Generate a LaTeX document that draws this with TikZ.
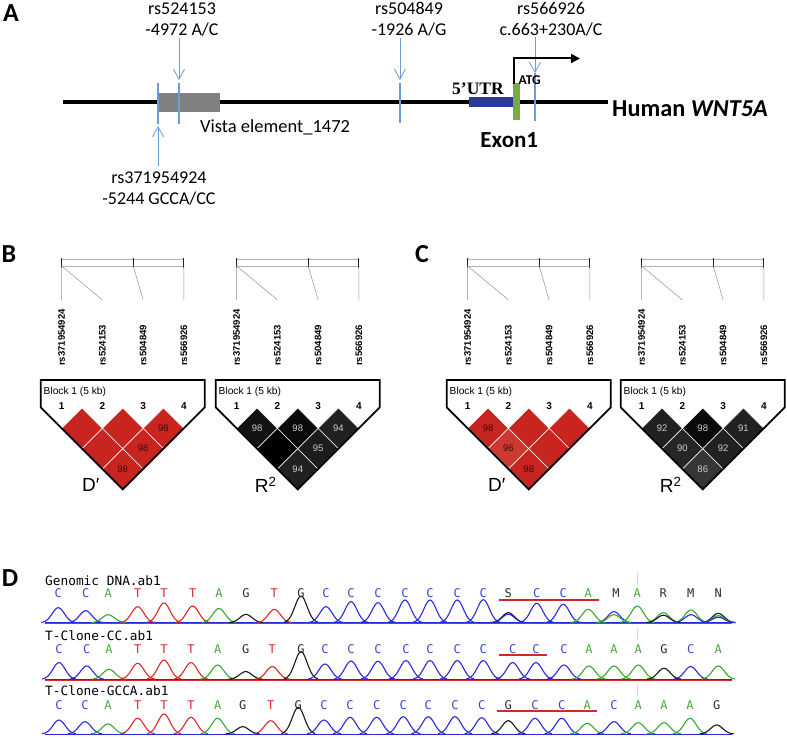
\documentclass[tikz,border=0pt]{standalone}
\usepackage{fontspec}
\setmainfont{Carlito}
\newfontfamily\arialf{Liberation Sans}
\newfontfamily\monof{DejaVu Sans Mono}
\newfontfamily\timesf{Liberation Serif}
\usetikzlibrary{arrows.meta,shapes.geometric}
\definecolor{snpblue}{RGB}{112,156,214}
\definecolor{utrblue}{RGB}{44,58,150}
\definecolor{exgreen}{RGB}{120,170,72}
\definecolor{boxgray}{RGB}{128,128,128}
\definecolor{ldred}{RGB}{200,36,32}
\definecolor{ldredb}{RGB}{206,56,50}
\definecolor{ldtxt}{RGB}{60,12,10}
\definecolor{rtxt}{RGB}{205,205,205}
\definecolor{kA}{gray}{0.0}
\definecolor{kB}{gray}{0.04}
\definecolor{kC}{gray}{0.07}
\definecolor{kD}{gray}{0.11}
\definecolor{kE}{gray}{0.13}
\definecolor{kF}{gray}{0.15}
\definecolor{kG}{gray}{0.21}
\definecolor{trB}{RGB}{40,40,220}
\definecolor{trG}{RGB}{50,170,50}
\definecolor{trR}{RGB}{220,40,40}
\definecolor{trK}{RGB}{25,25,25}
\definecolor{bC}{RGB}{60,70,200}
\definecolor{bA}{RGB}{70,170,60}
\definecolor{bT}{RGB}{215,45,45}
\definecolor{bG}{RGB}{45,45,45}
\colorlet{bS}{bG}\colorlet{bM}{bG}\colorlet{bR}{bG}\colorlet{bN}{bG}
\definecolor{seqred}{RGB}{210,40,40}
\definecolor{ymark}{RGB}{245,228,60}

\tikzset{
  panel/.style={font=\bfseries\fontsize{26}{26}\selectfont, inner sep=0pt},
  rslab/.style={font=\fontsize{18}{21}\selectfont, align=center, inner sep=0pt},
  snptick/.style={snpblue, line width=1.6pt},
  snparrow/.style={snpblue, line width=0.8pt, -{Straight Barb[length=10pt,width=11pt]}},
  barline/.style={gray!60, line width=0.6pt},
  bartick/.style={black!85, line width=1pt},
  mapline/.style={gray!85, line width=0.5pt},
  snplab/.style={font=\arialf\bfseries\fontsize{9.5}{10}\selectfont, rotate=90, anchor=west, inner sep=0pt},
  numlab/.style={font=\arialf\bfseries\fontsize{10}{10}\selectfont, inner sep=0pt},
  blocklab/.style={font=\arialf\fontsize{10.2}{11}\selectfont, inner sep=0pt, anchor=west},
  ldcell/.style={diamond, aspect=1, minimum width=40.7pt, minimum height=40.7pt, inner sep=0pt, outer sep=0pt, draw=white, line width=0.5pt, font=\arialf\fontsize{9.5}{10}\selectfont},
  ldout/.style={black, line width=1.7pt, line join=miter},
  ldname/.style={font=\arialf\fontsize{19}{19}\selectfont, inner sep=0pt},
  trace/.style={line width=1.1pt},
  seqtitle/.style={font=\monof\fontsize{12.8}{13}\selectfont, inner sep=0pt, anchor=west},
  baseletter/.style={font=\monof\fontsize{12}{12}\selectfont, inner sep=0pt},
  seqline/.style={seqred, line width=2pt},
  ytick/.style={ymark, line width=1.4pt}
}

\newcommand\ldplot[4]{%
\begin{scope}[xshift=#1]
  \draw[barline] (61.7,259) -- (183.8,259) (61.7,266) -- (183.8,266);
  \draw[bartick] (61.7,257.5) -- (61.7,267.5) (133.3,257.5) -- (133.3,267.5) (183.8,257.5) -- (183.8,267.5);
  \draw[mapline] (61.7,266) -- (61.7,300) (61.7,266) -- (102.4,300) (133.3,266) -- (143.1,300) (183.8,266) -- (183.8,300);
  \foreach \t [count=\k] in {rs371954924,rs524153,rs504849,rs566926}{
    \pgfmathsetmacro\mx{61.7+40.7*(\k-1)}
    \node[snplab] (#2s\k) at (\mx,366) {\t};
    \node[numlab] (#2n\k) at (\mx,406.5) {\k};
  }
  \foreach \i/\j/\c/\tc/\v in {#3}{
    \pgfmathsetmacro\cx{61.7+40.7*((\i+\j)/2-1)}
    \pgfmathsetmacro\cy{408+20.35*(\j-\i)}
    \node[ldcell, fill=\c, text=\tc] (#2c\i\j) at (\cx,\cy) {\v};
  }
  \draw[ldout] (40.7,407.35) -- (40.7,380) -- (204.8,380) -- (204.8,407.35) -- (122.75,489.4) -- cycle;
  \node[blocklab] (#2b) at (43.5,391.5) {Block 1 (5 kb)};
  \node[ldname] (#2d) at (90.75,485) {#4};
\end{scope}}

\newcommand\chromrow[2]{%
  \draw[trR, line width=1.3pt] (45,#1+0.6) -- (732,#1+0.6);
  \draw[trB, line width=0.6pt] (45,#1) -- (732,#1);
  \foreach \px/\ph/\pc in {#2}{
    \draw[\pc, trace] plot[variable=\t, domain=\px-17:\px+17, samples=25, smooth] (\t,{#1-\ph*exp(-((\t-\px)/8.6)^2)});
  }
}

\begin{document}
\begin{tikzpicture}[x=1pt,y=-1pt]
\useasboundingbox (0,0) rectangle (787,738);
\fill[white] (0,0) rectangle (787,738);

% ---------------- Panel A ----------------
\node[panel] (pA) at (11,13.5) {A};
\draw[line width=3.5pt] (63,102) -- (608,102);
\fill[boxgray] (159,93.3) rectangle (220,112.5);
\fill[utrblue] (469.3,97.3) rectangle (513.3,107);
\fill[exgreen] (513.3,83.5) rectangle (520,120.5);
\draw[snptick] (158,83) -- (158,124);
\draw[snptick] (179,83) -- (179,124);
\draw[snptick] (400,83) -- (400,123.5);
\coordinate (a1s) at (179,38); \coordinate (a1e) at (179,80);
\coordinate (a2s) at (158,166); \coordinate (a2e) at (158,126);
\coordinate (a3s) at (400,38); \coordinate (a3e) at (400,80);
\coordinate (a4s) at (535,37); \coordinate (a4e) at (535,73); \coordinate (a4b) at (535,121);
\draw[snparrow] (a1s) -- (a1e);
\draw[snparrow] (a2s) -- (a2e);
\draw[snparrow] (a3s) -- (a3e);
\draw[snpblue, line width=1.2pt] (a4e) -- (a4b);
\draw[snparrow] (a4s) -- (a4e);
\coordinate (tss) at (514.3,84); \coordinate (tssc) at (514.3,58.5); \coordinate (tsse) at (580,58.5);
\draw[line width=2pt, -{Triangle[length=9pt,width=9pt]}] (tss) -- (tssc) -- (tsse);
\node[rslab] (rs1) at (182,19.7) {rs524153\\-4972 A/C};
\node[rslab] (rs2) at (159,189) {rs371954924\\-5244 GCCA/CC};
\node[rslab] (rs3) at (409,19.7) {rs504849\\-1926 A/G};
\node[rslab] (rs4) at (551,19.2) {rs566926\\c.663+230A/C};
\node[font=\fontsize{18.5}{20}\selectfont, anchor=west, inner sep=0pt] (vista) at (200,127.5) {Vista element\_1472};
\node[font=\timesf\bfseries\fontsize{17.5}{18}\selectfont, inner sep=0pt] (utr) at (478,89) {5’UTR};
\node[font=\bfseries\fontsize{13.5}{14}\selectfont, inner sep=0pt] (atg) at (529.7,80.5) {ATG};
\node[font=\bfseries\fontsize{23}{24}\selectfont, inner sep=0pt] (exon) at (509.3,140) {Exon1};
\node[font=\bfseries\fontsize{24.3}{25}\selectfont, anchor=west, inner sep=0pt] (human) at (612,108.5) {Human \textit{WNT5A}};

% ---------------- Panels B and C ----------------
\node[panel] (pB) at (9,254) {B};
\node[panel] (pC) at (422,254) {C};
\ldplot{0pt}{bl}{1/2/ldred/ldtxt/{},2/3/ldred/ldtxt/{},3/4/ldred/ldtxt/98,1/3/ldred/ldtxt/{},2/4/ldred/ldtxt/98,1/4/ldred/ldtxt/98}{D′}
\ldplot{175pt}{br}{1/2/kC/rtxt/98,2/3/kB/rtxt/98,3/4/kE/rtxt/94,1/3/kA/rtxt/{},2/4/kD/rtxt/95,1/4/kE/rtxt/94}{R\textsuperscript{2}}
\ldplot{406pt}{cl}{1/2/ldred/ldtxt/98,2/3/ldred/ldtxt/{},3/4/ldred/ldtxt/{},1/3/ldredb/ldtxt/96,2/4/ldred/ldtxt/{},1/4/ldred/ldtxt/98}{D′}
\ldplot{580pt}{cr}{1/2/kE/rtxt/92,2/3/kB/rtxt/98,3/4/kE/rtxt/91,1/3/kF/rtxt/90,2/4/kE/rtxt/92,1/4/kG/rtxt/86}{R\textsuperscript{2}}

% ---------------- Panel D ----------------
\node[panel] (pD) at (10,578) {D};
\node[seqtitle] (t1) at (45,580.5) {Genomic DNA.ab1};
\node[seqtitle] (t2) at (45,635.5) {T-Clone-CC.ab1};
\node[seqtitle] (t3) at (45,690.5) {T-Clone-GCCA.ab1};

\chromrow{622.7}{58.3/15/trB,85.7/12/trB,108.3/8/trG,137.7/16/trR,164/19.7/trR,192.7/16.7/trR,219/14.3/trG,246/8.3/trK,274.3/13.3/trR,301/26.7/trK,326/16/trB,351/21/trB,378/20/trB,405/22.7/trB,430/22.7/trB,457.3/22.7/trB,483.3/23/trB,508.3/10/trK,508.3/8.5/trB,536.7/19.4/trB,563.3/18.4/trB,588.3/13.4/trG,614/11/trB,614/8/trG,637.3/16.7/trG,663.3/10/trG,663.3/7.5/trK,691/12.7/trG,691/8/trB,718.3/9.3/trK,718.3/7/trG,718.3/5.5/trB}
\chromrow{679.3}{59/16.7/trB,86.7/13.3/trB,109/10/trG,137.7/16/trR,164/19.3/trR,191/16.7/trR,217.7/14.3/trG,245.7/7.7/trK,272.3/12.7/trR,301/27.7/trK,325/15.3/trB,351/18.3/trB,378/18/trB,406/18.7/trB,430/18.7/trB,457.3/18.7/trB,483.3/18.7/trB,512.7/16.7/trB,536/16.7/trB,564/14.3/trB,589/13.3/trG,614/13.3/trG,638.3/14.3/trG,664/11/trK,690.7/12.7/trB,718.3/13.3/trG}
\chromrow{734}{59/14/trB,85/12.3/trB,108/10/trG,137.7/15.7/trR,164/20/trR,191/16.7/trR,217.7/15.7/trG,242.7/7.3/trK,270.7/13.3/trR,298.3/26.7/trK,324/14/trB,350/16.7/trB,376.7/16.7/trB,403.3/17.3/trB,428.3/17.3/trB,455/17.3/trB,481.7/16.3/trB,508.3/13.3/trK,535/15.7/trB,561.7/15.7/trB,587.3/10.7/trG,614/12.3/trB,638.3/11.3/trG,664/11.3/trG,690/15.7/trG,716.7/9/trK}

\foreach \lx/\lt [count=\k] in {58.3/C,85.7/C,108.3/A,137.7/T,164/T,192.7/T,219/A,246/G,274.3/T,301/G,326/C,351/C,378/C,405/C,430/C,457.3/C,483.3/C,508.3/S,536.7/C,563.3/C,588.3/A,616/M,637.3/A,663.3/R,690.7/M,718.3/N}
  \node[baseletter, text=b\lt] (ra\k) at (\lx,593.5) {\lt};
\foreach \lx/\lt [count=\k] in {59/C,86.7/C,109/A,137.7/T,164/T,191/T,217.7/A,245.7/G,272.3/T,301/G,325/C,351/C,378/C,406/C,430/C,457.3/C,483.3/C,512.7/C,536/C,564/C,589/A,614/A,638.3/A,664/G,690.7/C,718.3/A}
  \node[baseletter, text=b\lt] (rb\k) at (\lx,649) {\lt};
\foreach \lx/\lt [count=\k] in {59/C,85/C,108/A,137.7/T,164/T,191/T,217.7/A,242.7/G,270.7/T,298.3/G,324/C,350/C,376.7/C,403.3/C,428.3/C,455/C,481.7/C,508.3/G,535/C,561.7/C,587.3/A,614/C,638.3/A,664/A,690/A,716.7/G}
  \node[baseletter, text=b\lt] (rc\k) at (\lx,705) {\lt};

\coordinate (u1a) at (499.3,599.8); \coordinate (u1b) at (599.3,599.8);
\coordinate (u2a) at (499.3,655.3); \coordinate (u2b) at (546.7,655.3);
\coordinate (u3a) at (496.7,711); \coordinate (u3b) at (596.7,711);
\draw[seqline] (u1a) -- (u1b);
\draw[seqline] (u2a) -- (u2b);
\draw[seqline] (u3a) -- (u3b);
\coordinate (y1a) at (637.7,573); \coordinate (y1b) at (637.7,585);
\coordinate (y2a) at (637.7,629); \coordinate (y2b) at (637.7,639.5);
\coordinate (y3a) at (637.7,685); \coordinate (y3b) at (637.7,696);
\draw[ytick] (y1a) -- (y1b);
\draw[ytick] (y2a) -- (y2b);
\draw[ytick] (y3a) -- (y3b);
\end{tikzpicture}
\end{document}
